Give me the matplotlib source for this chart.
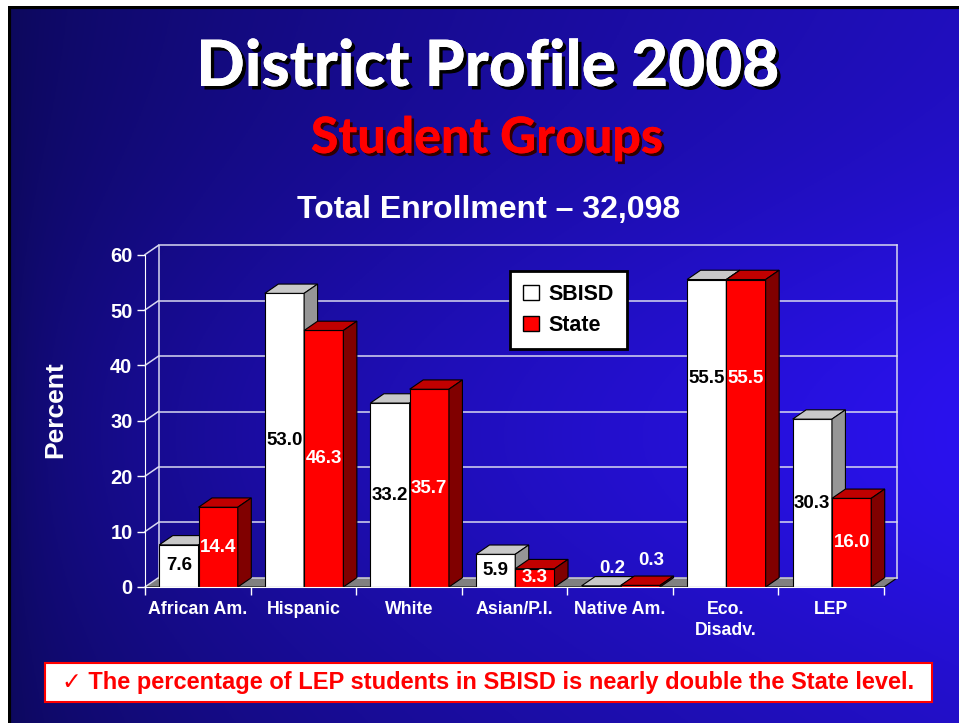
import numpy as np
import matplotlib
matplotlib.use("Agg")
import matplotlib.pyplot as plt
from matplotlib.patches import Polygon, Rectangle, Patch
import matplotlib.patheffects as pe

plt.rcParams['font.family'] = ['Liberation Sans', 'DejaVu Sans']

categories = ['African Am.', 'Hispanic', 'White', 'Asian/P.I.', 'Native Am.', 'Eco.\nDisadv.', 'LEP']
sbisd = [7.6, 53.0, 33.2, 5.9, 0.2, 55.5, 30.3]
state = [14.4, 46.3, 35.7, 3.3, 0.3, 55.5, 16.0]
series_names = ['SBISD', 'State']
y_ticks = [0, 10, 20, 30, 40, 50, 60]

W, H = 959, 723


def fx(px):
    return px / W


def fy(py):
    return 1 - py / H


fig = plt.figure(figsize=(W / 100, H / 100), dpi=100, facecolor='white')

# slide background: dark navy on the left, bright blue towards the right
bg = fig.add_axes([fx(8), 0, 1 - fx(8), fy(6)], zorder=-10)
yy, xx = np.mgrid[0:1:300j, 0:1:400j]
t = 0.65 * xx ** 0.7 + 0.35 * np.exp(-((yy - 0.6) / 0.35) ** 2) * xx ** 0.3
t = np.clip(t, 0, 1)
dark = np.array([0x0c, 0x08, 0x5a]) / 255
bright = np.array([0x2a, 0x12, 0xee]) / 255
img = dark[None, None, :] * (1 - t[..., None]) + bright[None, None, :] * t[..., None]
bg.imshow(img, aspect='auto', extent=(0, 1, 0, 1), origin='upper')
bg.set_xlim(0, 1)
bg.set_ylim(0, 1)
bg.axis('off')
bg.plot([0.0015, 0.0015], [0, 1], color='black', lw=3, solid_capstyle='butt')
bg.plot([0, 1], [0.998, 0.998], color='black', lw=3, solid_capstyle='butt')

# chart area, front axis in data units, depth offset for the 3d look
xpx, ypx = 105.57, 5.54
dxu, dyu = 13.5 / xpx, 9.3 / ypx
n = len(categories)
ax = fig.add_axes([fx(145), fy(587), (n * xpx + 13.5) / W, (60 * ypx + 9.3) / H])
ax.set_xlim(0, n + dxu)
ax.set_ylim(0, 60 + dyu)
ax.patch.set_visible(False)

grid_c = '#d8d8f0'
for v in y_ticks:
    ax.plot([0, dxu], [v, v + dyu], color=grid_c, lw=1.1, clip_on=False)
    ax.plot([dxu, n + dxu], [v + dyu, v + dyu], color=grid_c, lw=1.1, clip_on=False)
ax.plot([dxu, dxu], [dyu, 60 + dyu], color=grid_c, lw=1.1)
ax.plot([n + dxu, n + dxu], [dyu, 60 + dyu], color=grid_c, lw=1.1, clip_on=False)

floor = Polygon([(0, 0), (n, 0), (n + dxu, dyu), (dxu, dyu)], closed=True,
                facecolor='#808080', edgecolor='black', lw=0.8)
ax.add_patch(floor)

w = 0.372
off = 0.135
x0 = np.arange(n) + off
styles = [('#ffffff', '#c8c8c8', '#969696', 'black'),
          ('#ff0000', '#c00000', '#800000', 'white')]

for k, vals in enumerate([sbisd, state]):
    front, top, side, txt = styles[k]
    xs = x0 + k * w
    ax.bar(xs, vals, width=w, align='edge', color=front, edgecolor='black', lw=0.8, zorder=3 + k)
    for i, (xl, v) in enumerate(zip(xs, vals)):
        xr = xl + w
        ax.add_patch(Polygon([(xl, v), (xr, v), (xr + dxu, v + dyu), (xl + dxu, v + dyu)],
                             closed=True, facecolor=top, edgecolor='black', lw=0.8, zorder=3 + k))
        ax.add_patch(Polygon([(xr, 0), (xr + dxu, dyu), (xr + dxu, v + dyu), (xr, v)],
                             closed=True, facecolor=side, edgecolor='black', lw=0.8, zorder=3 + k))
        if v < 1:
            ax.text(xl + w / 2 + dxu * 0.8, v + 3.2 + 1.2 * k, f'{v:.1f}', color='white', fontsize=13.5,
                    fontweight='bold', ha='center', va='center', zorder=10)
        else:
            ly = v / 2
            if categories[i].startswith('Eco'):
                ly = 37.7
            ax.text(xl + w / 2, ly, f'{v:.1f}', color=txt, fontsize=13.5,
                    fontweight='bold', ha='center', va='center', zorder=10)

for s in ['top', 'right']:
    ax.spines[s].set_visible(False)
ax.spines['left'].set_color('white')
ax.spines['left'].set_bounds(0, 60)
ax.spines['bottom'].set_color('white')
ax.spines['bottom'].set_bounds(0, n)
ax.spines['left'].set_zorder(6)
ax.spines['bottom'].set_zorder(6)

ax.set_yticks(y_ticks)
ax.tick_params(axis='y', colors='white', length=6, width=1, labelsize=14.5, pad=3)
for lbl in ax.get_yticklabels():
    lbl.set_fontweight('bold')

ax.set_xticks(np.arange(n + 1))
ax.set_xticklabels([])
ax.tick_params(axis='x', which='major', colors='white', length=6, width=1)
ax.set_xticks(np.arange(n) + 0.5, minor=True)
ax.set_xticklabels(categories, minor=True)
ax.tick_params(axis='x', which='minor', length=0, pad=10, labelcolor='white', labelsize=12.8)
for lbl in ax.get_xticklabels(minor=True):
    lbl.set_fontweight('bold')
    lbl.set_linespacing(1.35)

fig.text(fx(55), fy(410), 'Percent', rotation=90, color='white', fontsize=19,
         fontweight='bold', ha='center', va='center')

leg = fig.legend([Patch(facecolor='white', edgecolor='black'), Patch(facecolor='red', edgecolor='black')],
                 series_names, loc='upper left', bbox_to_anchor=(fx(510), fy(271)),
                 frameon=True, fancybox=False, edgecolor='black', framealpha=1,
                 prop={'weight': 'bold', 'size': 15.5}, handlelength=0.72, handleheight=0.72,
                 handletextpad=0.45, borderpad=0.62, labelspacing=0.45, borderaxespad=0)
leg.get_frame().set_linewidth(2)

shadow = [pe.withSimplePatchShadow(offset=(2.5, -2.5), shadow_rgbFace='black', alpha=1), pe.Normal()]
fig.text(fx(488), fy(86), 'District Profile 2008', color='white', fontsize=46,
         family=['Lato', 'DejaVu Sans'], fontweight='black', ha='center', va='baseline',
         path_effects=shadow)
fig.text(fx(487), fy(153), 'Student Groups', color='red', fontsize=36,
         family=['Lato', 'DejaVu Sans'], fontweight='black', ha='center', va='baseline',
         path_effects=[pe.withSimplePatchShadow(offset=(2, -2), shadow_rgbFace='#300000', alpha=1), pe.Normal()])
fig.text(fx(489), fy(218), 'Total Enrollment \u2013 32,098', color='white', fontsize=23,
         fontweight='bold', ha='center', va='baseline')

fig.patches.append(Rectangle((fx(45), fy(702)), fx(932) - fx(45), (702 - 663) / H,
                             transform=fig.transFigure, facecolor='white', edgecolor='red', lw=1.5))
fig.text(fx(488), fy(683), '\u2713 The percentage of LEP students in SBISD is nearly double the State level.',
         color='red', fontsize=17, fontweight='bold', ha='center', va='center',
         family=['Liberation Sans', 'DejaVu Sans'])

fig.savefig('out.png', dpi=100, facecolor=fig.get_facecolor())
